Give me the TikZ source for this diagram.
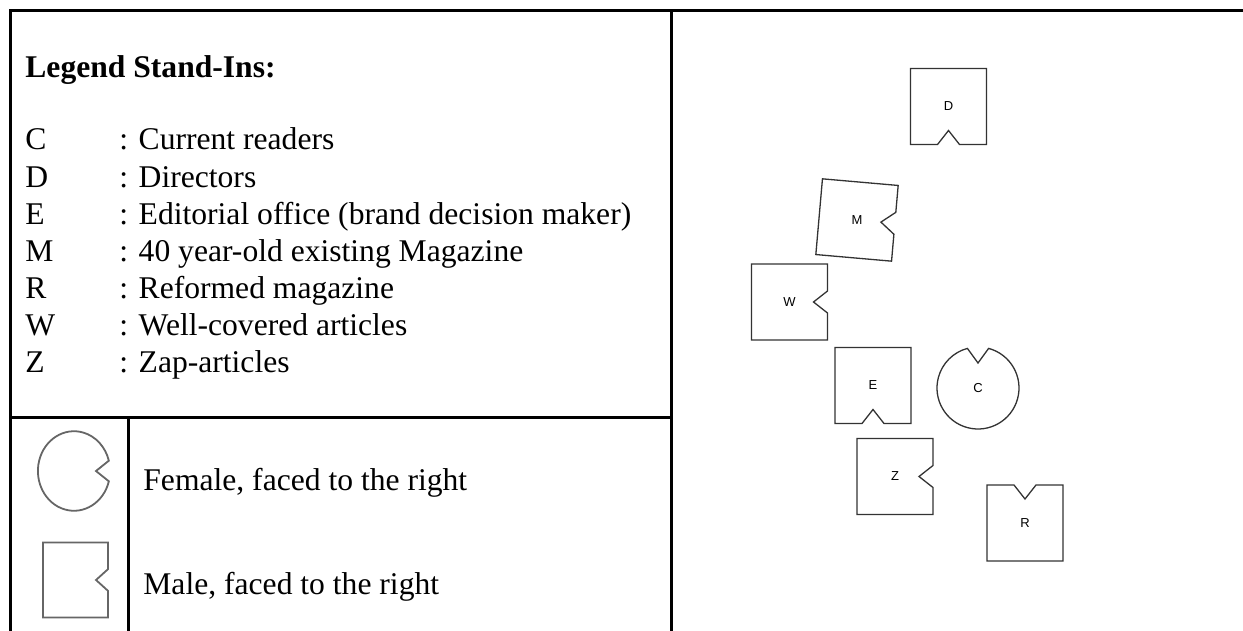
\documentclass[tikz,border=0pt]{standalone}
\usepackage{fontspec}
\setmainfont{Liberation Serif}
\newfontfamily\tagfont{Liberation Sans}

\begin{document}
\begin{tikzpicture}[x=0.5pt,y=-0.5pt,
        rule/.style={line width=1.5pt},
        shape line/.style={line width=0.65pt,draw=black!80},
        tag/.style={font=\tagfont\fontsize{6.5}{7}\selectfont,inner sep=0pt},
        legend text/.style={font=\fontsize{15.8}{18}\selectfont,inner sep=0pt,anchor=base west},
        male/.pic={\draw[shape line] (-38,-38) -- (38,-38) -- (38,-11) -- (24,0) -- (38,11) -- (38,38) -- (-38,38) -- cycle;},
        female/.pic={\draw[shape line] (15:41) arc[start angle=15,end angle=345,radius=41] -- (25,0) -- cycle;}]
        \useasboundingbox (0,0) rectangle (1243,631);
        % table rules
        \draw [rule] (10,632) -- (10,11) -- (1244,11);
        \draw [rule] (671,11) -- (671,632);
        \draw [rule] (10,417) -- (671,417);
        \draw [rule] (128,417) -- (128,632);
        % legend
        \node [legend text,font=\bfseries\fontsize{15.8}{18}\selectfont] (title) at (25,78) {Legend Stand-Ins:};
        \node [legend text] (kC) at (25,150) {C};
        \node [legend text] (tC) at (119,150) {: Current readers};
        \node [legend text] (kD) at (25,187) {D};
        \node [legend text] (tD) at (119,187) {: Directors};
        \node [legend text] (kE) at (25,224) {E};
        \node [legend text] (tE) at (119,224) {: Editorial office (brand decision maker)};
        \node [legend text] (kM) at (25,261) {M};
        \node [legend text] (tM) at (119,261) {: 40 year-old existing Magazine};
        \node [legend text] (kR) at (25,298) {R};
        \node [legend text] (tR) at (119,298) {: Reformed magazine};
        \node [legend text] (kW) at (25,335) {W};
        \node [legend text] (tW) at (119,335) {: Well-covered articles};
        \node [legend text] (kZ) at (25,372) {Z};
        \node [legend text] (tZ) at (119,372) {: Zap-articles};
        % symbols
        \node [legend text] (female) at (143,490) {Female, faced to the right};
        \node [legend text] (male) at (143,594) {Male, faced to the right};
        \begin{scope}[shape line/.append style={draw=black!60,line width=0.9pt}]
            \coordinate (femaleicon) at (74,471);
            \coordinate (maleicon) at (75.5,580);
            \pic [xscale=0.88,yscale=0.97] at (femaleicon) {female};
            \pic [xscale=0.855,yscale=0.985] at (maleicon) {male};
        \end{scope}
        % stand-ins
        \node [tag] (D) at (948.5,106.5) {D};
        \node [tag] (M) at (857,220) {M};
        \node [tag] (W) at (789.5,302) {W};
        \node [tag] (E) at (873,385.5) {E};
        \node [tag] (C) at (978,388) {C};
        \node [tag] (Z) at (895,476.5) {Z};
        \node [tag] (R) at (1025,523) {R};
        \pic [rotate=-90] at (D) {male};
        \pic [rotate=-5] at (M) {male};
        \pic at (W) {male};
        \pic [rotate=-90] at (E) {male};
        \pic [rotate=90] at (C) {female};
        \pic at (Z) {male};
        \pic [rotate=90] at (R) {male};
    \end{tikzpicture}
\end{document}
